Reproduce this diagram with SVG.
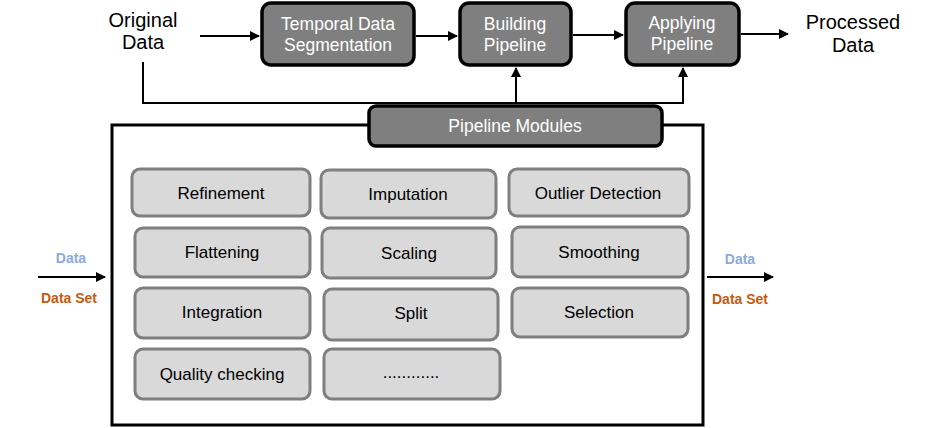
<svg xmlns="http://www.w3.org/2000/svg" width="926" height="428" viewBox="0 0 926 428">
<defs>
<marker id="ah" viewBox="0 0 10 10" refX="9" refY="5" markerWidth="10" markerHeight="10" markerUnits="userSpaceOnUse" orient="auto">
<path d="M0,0 L10,5 L0,10 z" fill="#000"/>
</marker>
<style>
.step{fill:#7f7f7f;stroke:#000;stroke-width:3.5}
.mod{fill:#d9d9d9;stroke:#7f7f7f;stroke-width:3}
.wt{fill:#fff;font-family:"Liberation Sans",Arial,sans-serif;font-size:17.5px;text-anchor:middle}
.bt{fill:#000;font-family:"Liberation Sans",Arial,sans-serif;font-size:17px;text-anchor:middle}
.big{fill:#000;font-family:"Liberation Sans",Arial,sans-serif;font-size:20px;text-anchor:middle}
.ln{fill:none;stroke:#000;stroke-width:2}
.blue{fill:#8eaadb;font-family:"Liberation Sans",Arial,sans-serif;font-size:14px;font-weight:bold;text-anchor:middle}
.org{fill:#c55a11;font-family:"Liberation Sans",Arial,sans-serif;font-size:14px;font-weight:bold;text-anchor:middle}
</style>
</defs>
<g id="connectors">
<line class="ln" x1="200" y1="36" x2="259" y2="36" marker-end="url(#ah)"/>
<line class="ln" x1="416" y1="36" x2="457" y2="36" marker-end="url(#ah)"/>
<line class="ln" x1="573" y1="35" x2="623" y2="35" marker-end="url(#ah)"/>
<line class="ln" x1="741" y1="34" x2="788" y2="34" marker-end="url(#ah)"/>
<polyline class="ln" points="143,62 143,103 683,103 683,68" marker-end="url(#ah)"/>
<line class="ln" x1="516" y1="103" x2="516" y2="68" marker-end="url(#ah)"/>
<line class="ln" x1="38" y1="277" x2="105" y2="277" marker-end="url(#ah)"/>
<line class="ln" x1="707" y1="277" x2="773" y2="277" marker-end="url(#ah)"/>
</g>
<g id="original-data">
<text class="big" x="143" y="27">Original</text>
<text class="big" x="143" y="49">Data</text>
</g>
<g id="processed-data">
<text class="big" x="853" y="29">Processed</text>
<text class="big" x="853" y="52">Data</text>
</g>
<g id="temporal-data-segmentation">
<rect class="step" x="262" y="3" width="152" height="62" rx="9"/>
<text class="wt" x="338" y="30">Temporal Data</text>
<text class="wt" x="338" y="51">Segmentation</text>
</g>
<g id="building-pipeline">
<rect class="step" x="460" y="3" width="111" height="62" rx="9"/>
<text class="wt" x="515" y="30">Building</text>
<text class="wt" x="515" y="51">Pipeline</text>
</g>
<g id="applying-pipeline">
<rect class="step" x="626" y="3" width="113" height="62" rx="9"/>
<text class="wt" x="682" y="29">Applying</text>
<text class="wt" x="682" y="50">Pipeline</text>
</g>
<g id="pipeline-modules">
<rect x="112" y="125" width="591" height="300" fill="#fff" stroke="#000" stroke-width="3"/>
<rect class="step" x="369" y="106" width="293" height="40" rx="7"/>
<text class="wt" x="515" y="132">Pipeline Modules</text>
</g>
<g id="refinement"><rect class="mod" x="132" y="169" width="178" height="47" rx="8"/><text class="bt" x="221" y="199">Refinement</text></g>
<g id="imputation"><rect class="mod" x="321" y="170" width="175" height="48" rx="8"/><text class="bt" x="408" y="200">Imputation</text></g>
<g id="outlier-detection"><rect class="mod" x="509" y="169" width="180" height="47" rx="8"/><text class="bt" x="598" y="199">Outlier Detection</text></g>
<g id="flattening"><rect class="mod" x="135" y="228" width="175" height="49" rx="8"/><text class="bt" x="222" y="258">Flattening</text></g>
<g id="scaling"><rect class="mod" x="322" y="228" width="174" height="50" rx="8"/><text class="bt" x="409" y="259">Scaling</text></g>
<g id="smoothing"><rect class="mod" x="512" y="227" width="176" height="50" rx="8"/><text class="bt" x="599" y="258">Smoothing</text></g>
<g id="integration"><rect class="mod" x="135" y="288" width="175" height="50" rx="8"/><text class="bt" x="222" y="318">Integration</text></g>
<g id="split"><rect class="mod" x="324" y="289" width="174" height="51" rx="8"/><text class="bt" x="411" y="319">Split</text></g>
<g id="selection"><rect class="mod" x="512" y="288" width="176" height="49" rx="8"/><text class="bt" x="599" y="318">Selection</text></g>
<g id="quality-checking"><rect class="mod" x="135" y="349" width="175" height="50" rx="8"/><text class="bt" x="222" y="380">Quality checking</text></g>
<g id="more"><rect class="mod" x="324" y="349" width="176" height="50" rx="8"/><text class="bt" x="411" y="378">............</text></g>
<g id="input-labels">
<text class="blue" x="71" y="263">Data</text>
<text class="org" x="69" y="303">Data Set</text>
</g>
<g id="output-labels">
<text class="blue" x="740" y="264">Data</text>
<text class="org" x="740" y="304">Data Set</text>
</g>
</svg>
